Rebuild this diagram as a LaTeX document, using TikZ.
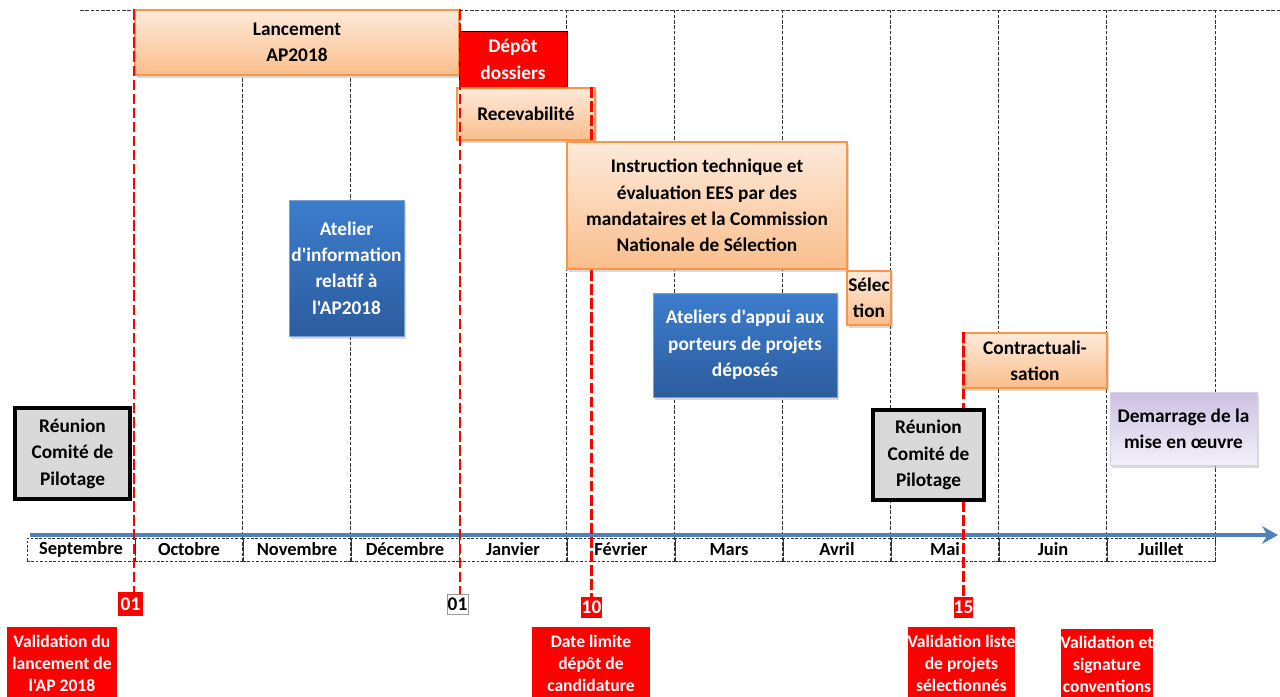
\documentclass[tikz,border=0pt]{standalone}
\usepackage{fontspec}
\setmainfont{Carlito}[Ligatures=TeXOff]
\usepackage{tikz}
\usetikzlibrary{arrows.meta, shadows, calc}
\usepackage{xcolor}

\definecolor{peachtop}{RGB}{253,234,218}
\definecolor{peachbot}{RGB}{250,190,140}
\definecolor{peachline}{RGB}{247,150,70}
\definecolor{bluetop}{RGB}{60,125,205}
\definecolor{bluebot}{RGB}{44,92,158}
\definecolor{blueline}{RGB}{120,160,210}
\definecolor{axisblue}{RGB}{79,129,189}
\definecolor{lavtop}{RGB}{204,192,226}
\definecolor{lavbot}{RGB}{244,240,250}
\definecolor{lavline}{RGB}{215,210,232}
\definecolor{pilgray}{RGB}{217,217,217}
\definecolor{datered}{RGB}{255,0,0}

\newlength\pxu
\setlength\pxu{0.2mm}

\begin{document}
\begin{tikzpicture}[
    x=0.2mm, y=-0.2mm,
    txt/.style      = {font=\bfseries\fontsize{11}{15}\selectfont, align=center, inner sep=1pt},
    boxshadow/.style = {drop shadow={opacity=0.3, shadow xshift=1.2pt, shadow yshift=-1.5pt}},
    phase/.style    = {txt, rectangle, draw=peachline, line width=0.8pt,
                       top color=peachtop, bottom color=peachbot, boxshadow},
    atelier/.style  = {txt, rectangle, draw=blueline, line width=0.5pt, text=white,
                       top color=bluetop, bottom color=bluebot, boxshadow},
    comite/.style   = {txt, rectangle, draw=black, line width=2pt, fill=pilgray},
    lancer/.style   = {txt, rectangle, draw=lavline, line width=0.5pt,
                       top color=lavtop, bottom color=lavbot, boxshadow},
    depot/.style    = {txt, rectangle, draw=blue!40!black, line width=0.5pt,
                       fill=datered, text=white},
    jalon/.style    = {txt, rectangle, fill=datered, text=white, inner sep=0pt},
    note/.style     = {font=\bfseries\fontsize{10}{12.5}\selectfont, align=center,
                       rectangle, fill=datered, text=white, inner sep=0pt},
    month/.style    = {font=\bfseries\fontsize{10.5}{12}\selectfont, draw=black!80,
                       line width=0.5pt, dash pattern=on 1.5pt off 1pt,
                       minimum width=108\pxu, minimum height=23\pxu, inner sep=0pt},
    grid/.style     = {black!80, line width=0.5pt, dash pattern=on 2pt off 1pt},
    redline/.style  = {draw=datered, line width=1.2pt, dash pattern=on 6pt off 2pt},
]
\useasboundingbox (0,0) rectangle (1280,696);
\clip (0,0) rectangle (1280,696);

% Month row
\foreach \m [count=\i] in {Septembre,Octobre,Novembre,Décembre,Janvier,Février,Mars,Avril,Mai,Juin,Juillet}
  \node[month] (mon\i) at ({108*\i-27},549.5) {\m};

% Grid
\coordinate (top) at (80,10);
\coordinate (topend) at (1280,10);
\draw[grid] (top) -- (topend);
\foreach \i in {3,4,6,7,8,9,10,11}
  \draw[grid] (mon\i.south west) -- (mon\i.south west |- top);
\draw[grid] (mon11.south east) -- (mon11.south east |- top);

% Time axis
\coordinate (ax0) at (30,535);
\coordinate (ax1) at (1278,535);
\draw[axisblue, line width=1.8pt, -{Stealth[length=9pt,width=10pt]}] (ax0) -- (ax1);

% Dates and milestones
\node[jalon, minimum width=25\pxu, minimum height=24\pxu] (d1)  at (130.5,604) {01};
\node[txt, inner sep=0pt, draw=black!40, fill=white,
      minimum width=21\pxu, minimum height=20\pxu]           (j1)  at (457.5,604) {01};
\node[jalon, minimum width=21\pxu, minimum height=21\pxu] (f10) at (591.5,607.5) {10};
\node[jalon, minimum width=19\pxu, minimum height=21\pxu] (m15) at (963.5,607.5) {15};

\node[note, minimum width=110\pxu, minimum height=73\pxu] (n1) at (62,663.5)   {Validation du\\lancement de\\l'AP 2018};
\node[note, minimum width=118\pxu, minimum height=73\pxu] (n2) at (591,663.5)  {Date limite\\dépôt de\\candidature};
\node[note, minimum width=107\pxu, minimum height=73\pxu] (n3) at (961.5,663.5) {Validation liste\\de projets\\sélectionnés};
\node[note, minimum width=92\pxu,  minimum height=71\pxu] (n4) at (1107,664.5) {Validation et\\signature\\conventions};

% Launch phase
\node[phase, minimum width=324\pxu, minimum height=65\pxu] (lanc) at (297,42.5) {Lancement\\AP2018};
\node[depot, minimum width=108\pxu, minimum height=57\pxu] (dep)  at (513,59.5) {Dépôt\\dossiers};
\node[phase, minimum width=138\pxu, minimum height=52\pxu] (recv) at (526,114)  {Recevabilité};

\draw[redline] (lanc.north west) -- (lanc.north west |- d1.north);
\draw[redline] (lanc.north east) -- (lanc.north east |- j1.north);
\draw[redline] (f10.north |- recv.north) -- (f10.north);

% Instruction and workshops
\node[phase, minimum width=280\pxu, minimum height=127\pxu] (instr) at (707,205.5)
  {Instruction technique  et\\évaluation EES par des\\mandataires  et la Commission\\Nationale de Sélection};
\node[atelier, minimum width=115\pxu, minimum height=136\pxu] (info) at (346.5,268)
  {Atelier\\d'information\\relatif à\\l'AP2018};
\node[phase, inner sep=0pt, minimum width=44\pxu, minimum height=54\pxu] (sel) at (869,298) {Sélec\\tion};
\node[atelier, minimum width=184\pxu, minimum height=104\pxu] (appui) at (745,345)
  {Ateliers d'appui aux\\porteurs de projets\\déposés};
\node[phase, minimum width=144\pxu, minimum height=55\pxu] (contr) at (1035,360.5) {Contractuali-\\sation};

\draw[redline] (m15.north |- contr.north) -- (m15.north);

% Steering committee and start
\node[comite, minimum width=115\pxu, minimum height=91\pxu] (cop1) at (72.5,453.5) {Réunion\\Comité de\\Pilotage};
\node[comite, minimum width=111\pxu, minimum height=90\pxu] (cop2) at (928.5,455)  {Réunion\\Comité de\\Pilotage};
\node[lancer, minimum width=147\pxu, minimum height=73\pxu] (start) at (1183.5,428.5) {Demarrage  de la\\mise en œuvre};

\end{tikzpicture}
\end{document}
